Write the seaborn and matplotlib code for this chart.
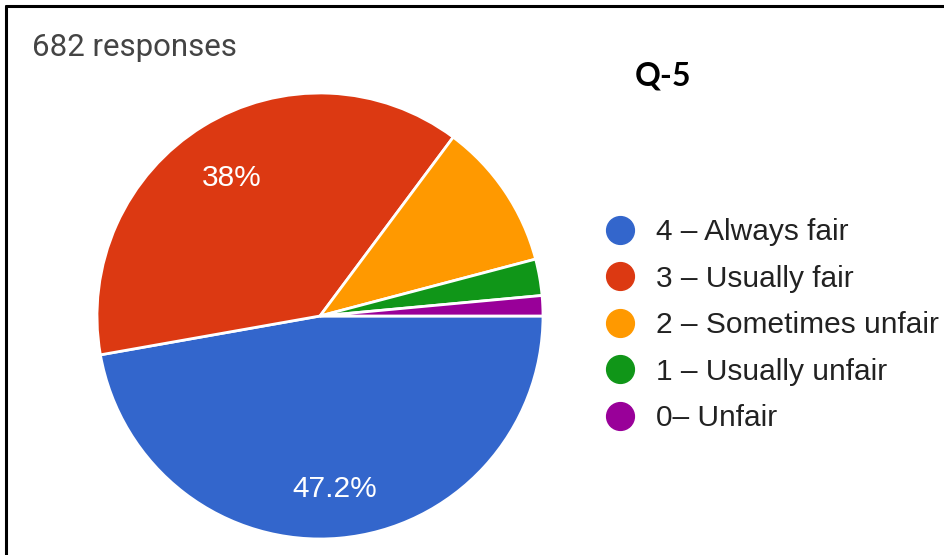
import matplotlib
matplotlib.use('Agg')
import matplotlib.pyplot as plt
import matplotlib.transforms as mtransforms
import seaborn as sns
from matplotlib.lines import Line2D

# Survey answers for Q-5 (682 responses)
labels = ['4 – Always fair', '3 – Usually fair', '2 – Sometimes unfair',
          '1 – Usually unfair', '0– Unfair']
counts = [322, 259, 73, 18, 10]
colors = ['#3366cc', '#dc3912', '#ff9900', '#109618', '#990099']
total_responses = 682
title = 'Q-5'

sns.set_theme(style='white')
plt.rcParams['font.family'] = ['Liberation Sans', 'DejaVu Sans']

W, H = 944, 555
fig = plt.figure(figsize=(W / 100, H / 100), dpi=100)

# pie axes: centre (320, 316) px from top-left, radius 223 px
cx, cy, r = 320, 316, 223
ax = fig.add_axes([(cx - r) / W, (H - cy - r) / H, 2 * r / W, 2 * r / H])


def pct_label(p):
    # Google only labels the big slices here
    if p < 20:
        return ''
    return f'{p:.1f}%'.replace('.0%', '%')


wedges, _, autotexts = ax.pie(counts, colors=sns.color_palette(colors), startangle=0,
                              counterclock=False, autopct=pct_label, pctdistance=0.755,
                              wedgeprops=dict(edgecolor='white', linewidth=2),
                              textprops=dict(color='white', fontsize=21.5))
# nudge the percentage labels down a little, like the google rendering
shift = mtransforms.ScaledTranslation(0, -5 / 100, fig.dpi_scale_trans)
for t in autotexts:
    t.set_transform(ax.transData + shift)

ax.set_xlim(-1, 1)
ax.set_ylim(-1, 1)
ax.set_aspect('equal')
ax.axis('off')

# legend with round markers
handles = [Line2D([0], [0], marker='o', linestyle='', markersize=20,
                  markerfacecolor=c, markeredgecolor=c) for c in colors]
fig.legend(handles, labels, loc='upper left', bbox_to_anchor=(605 / W, 1 - 218 / H),
           frameon=False, fontsize=21.5, handlelength=1.0, handletextpad=0.7,
           labelspacing=0.62, borderpad=0, borderaxespad=0,
           labelcolor='#222222')

fig.text(32 / W, 1 - 48 / H, f'{total_responses} responses', fontsize=22.5,
         family=['Roboto', 'DejaVu Sans'], color='#444444', va='center', ha='left')
fig.text(635 / W, 1 - 76 / H, title, fontsize=23, fontweight='bold',
         family=['Lato', 'DejaVu Sans'], color='black', va='center', ha='left')

# screenshot frame: left and top edges only
fig.add_artist(Line2D([6 / W, 6 / W], [0, 1 - 6 / H], color='black', linewidth=2.2,
                      transform=fig.transFigure))
fig.add_artist(Line2D([6 / W, 1], [1 - 6 / H, 1 - 6 / H], color='black', linewidth=2.2,
                      transform=fig.transFigure))

fig.savefig('out.png', dpi=100)
